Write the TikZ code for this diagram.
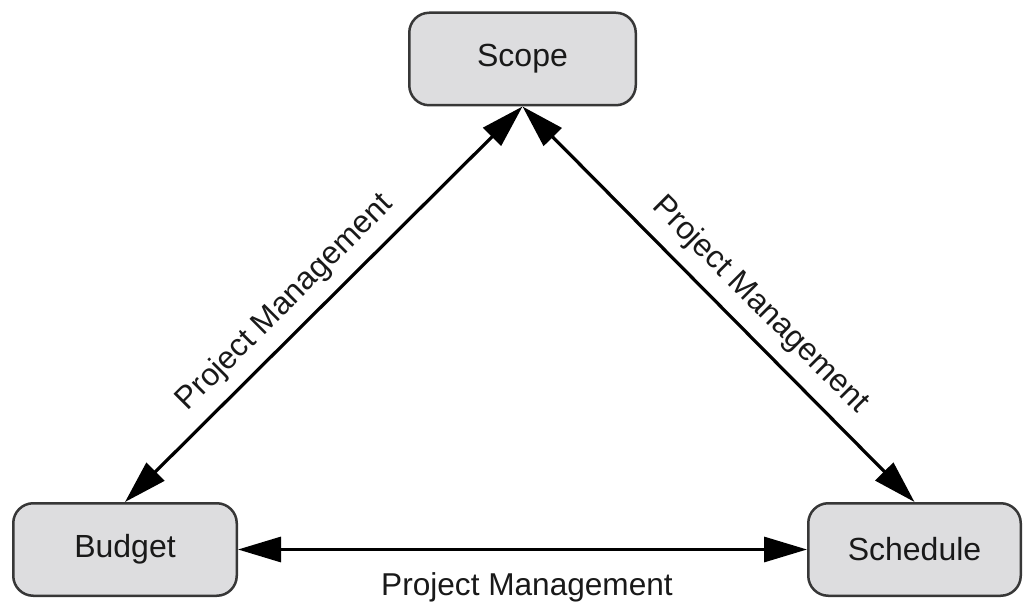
\documentclass[tikz,border=0pt]{standalone}
\usepackage{fontspec}
\setmainfont{Liberation Sans}
\usetikzlibrary{arrows.meta}
\definecolor{boxfill}{RGB}{221,221,223}
\definecolor{boxline}{RGB}{55,55,55}
\definecolor{txt}{RGB}{25,25,25}
\begin{document}
\begin{tikzpicture}[x=1pt,y=1pt,
  box/.style={draw=boxline, fill=boxfill, line width=2.5pt, rounded corners=20pt,
    minimum height=92.5pt, text=txt, font=\fontsize{32}{38}\selectfont, inner sep=0pt},
  conn/.style={line width=3.2pt, {Triangle[length=43pt,width=25pt]}-{Triangle[length=43pt,width=25pt]}},
  lab/.style={text=txt, font=\fontsize{31.6}{37}\selectfont, inner sep=0pt}
]
\useasboundingbox (0,0) rectangle (1024,608);
\node[box, minimum width=226.5pt] (S) at (522.5,549) {Scope};
\node[box, minimum width=223.5pt] (B) at (125,58.5) {Budget};
\node[box, minimum width=212.5pt] (C) at (914.5,58.5) {Schedule};
\draw[conn] (S.south) -- (B.north);
\draw[conn] (S.south) -- (C.north);
\draw[conn] (B.east) -- (C.west);
\node[lab, rotate=45] (L1) at (285,305) {Project Management};
\node[lab, rotate=-45] (L2) at (760,303) {Project Management};
\node[lab] (L3) at (527,21) {Project Management};
\end{tikzpicture}
\end{document}
